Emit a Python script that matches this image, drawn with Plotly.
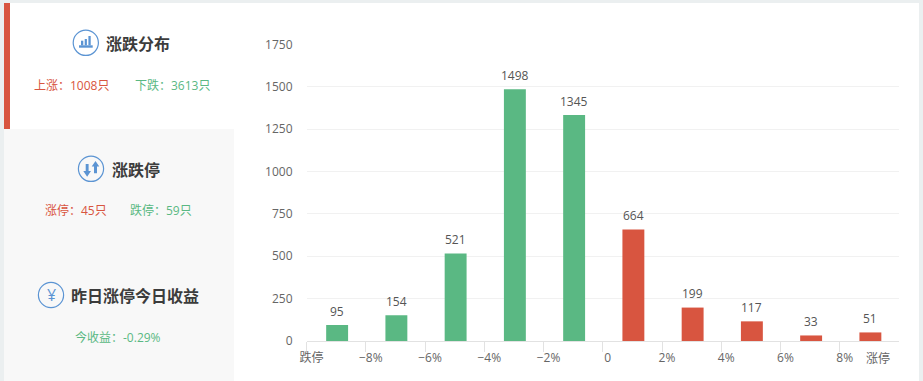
import plotly.graph_objects as go

W, H = 923, 381
values = [95, 154, 521, 1498, 1345, 664, 199, 117, 33, 51]
positions = [0, 1, 2, 3, 4, 5, 6, 7, 8, 9]
tick_vals = [-0.5, 0.5, 1.5, 2.5, 3.5, 4.5, 5.5, 6.5, 7.5, 8.5]
tick_text = ["跌停", "−8%", "−6%", "−4%", "−2%", "0", "2%", "4%", "6%", "8%"]
last_tick_label = "涨停"
y_ticks = [0, 250, 500, 750, 1000, 1250, 1500, 1750]

GREEN = "#5ab883"
RED = "#d85540"
BLUE = "#5b94d3"
colors = [GREEN] * 5 + [RED] * 5
FONT = "Open Sans, Noto Sans CJK SC, sans-serif"
CJK = "Noto Sans CJK SC, sans-serif"


def px(x):
    return x / W


def py(y):
    return 1 - y / H


def rect(x0, y0, x1, y1, color, layer="below"):
    return dict(type="rect", xref="paper", yref="paper", x0=px(x0), x1=px(x1),
                y0=py(y1), y1=py(y0), fillcolor=color, line_width=0, layer=layer)


def circle(cx, cy, r):
    return dict(type="circle", xref="paper", yref="paper", x0=px(cx - r), x1=px(cx + r),
                y0=py(cy + r), y1=py(cy - r), line=dict(color=BLUE, width=1.2), layer="above")


def poly(points):
    d = "M" + " L".join(f"{px(x):.5f},{py(y):.5f}" for x, y in points) + " Z"
    return dict(type="path", xref="paper", yref="paper", path=d, fillcolor=BLUE,
                line_width=0, layer="above")


def label(x, y, text, color, size=12, family=FONT):
    return dict(xref="paper", yref="paper", x=px(x), y=py(y), text=text, showarrow=False,
                xanchor="center", yanchor="middle", font=dict(color=color, size=size, family=family))


shapes = [
    rect(0, 0, W, 3, "#ebeff0"),
    rect(0, 3, 4, H, "#ebeff0"),
    rect(919, 0, W, H, "#ebeff0"),
    rect(4, 3, 10, 129, RED),
    rect(4, 129, 234, H, "#f8f8f8"),
    circle(85.8, 42.8, 12.6),
    rect(79, 45.3, 92.7, 47.7, BLUE, "above"),
    rect(81, 40.7, 83.3, 45.3, BLUE, "above"),
    rect(84.7, 39, 86.9, 45.3, BLUE, "above"),
    rect(88.4, 36, 90.7, 45.3, BLUE, "above"),
    circle(91, 168.8, 12.6),
    poly([(85.7, 164), (88.6, 164), (88.6, 171), (91, 171), (87.15, 176.7), (83.3, 171), (85.7, 171)]),
    poly([(94, 173.3), (97, 173.3), (97, 166.5), (99.3, 166.5), (95.5, 161), (91.7, 166.5), (94, 166.5)]),
    circle(51, 295, 12.6),
]

DARK = "#3c3c3c"
annotations = [
    label(138, 43, "<b>涨跌分布</b>", DARK, 16, CJK),
    label(71.5, 85, "上涨：1008只", RED, 12),
    label(172, 85, "下跌：3613只", GREEN, 12),
    label(135.5, 169, "<b>涨跌停</b>", DARK, 16, CJK),
    label(76, 210.5, "涨停：45只", RED, 12),
    label(161, 210.5, "跌停：59只", GREEN, 12),
    label(135, 295, "<b>昨日涨停今日收益</b>", DARK, 16, CJK),
    label(118, 337, "今收益：-0.29%", GREEN, 12),
    label(51, 295, "¥", BLUE, 16),
]
for xv, yv in zip(positions, values):
    annotations.append(dict(x=xv, y=yv, xref="x", yref="y2", text=str(yv), showarrow=False,
                            yanchor="bottom", yshift=3.5, xshift=1,
                            font=dict(color="#555555", size=12, family=FONT)))
annotations.append(dict(x=positions[-1], y=0, xref="x", yref="y", text=last_tick_label,
                        showarrow=False, yanchor="top", yshift=-7, xshift=9,
                        font=dict(color="#666666", size=12, family=FONT)))

fig = go.Figure(go.Bar(x=positions, y=values, yaxis="y2",
                       marker=dict(color=colors, line_width=0),
                       width=0.37, offset=-0.168, hoverinfo="skip"))
fig.update_layout(
    width=W, height=H, autosize=False,
    margin=dict(l=0, r=0, t=0, b=0, pad=0),
    paper_bgcolor="white", plot_bgcolor="white", showlegend=False,
    shapes=shapes, annotations=annotations,
    font=dict(family=FONT),
    xaxis=dict(domain=[px(306.5), px(899)], range=[-0.5, 9.5], tickmode="array", automargin=False,
               tickvals=tick_vals, ticktext=tick_text, showgrid=False, zeroline=False,
               showline=True, linecolor="#e2e2e2", linewidth=1, ticks="outside", ticklen=10,
               tickcolor="#e2e2e2", tickwidth=1, ticklabelshift=5, ticklabelstandoff=-4,
               tickfont=dict(color="#666666", size=12, family=FONT)),
    yaxis=dict(domain=[py(341), py(44.5)], range=[0, 1750], tickmode="array", automargin=False,
               tickvals=y_ticks, showgrid=True, gridcolor="#f1f1f1", gridwidth=1,
               zeroline=False, showline=False, ticks="",
               ticklabelstandoff=13,
               tickfont=dict(color="#666666", size=12, family=FONT)),
    yaxis2=dict(domain=[py(341), py(44.5)], range=[0, 1765], overlaying="y", visible=False,
                automargin=False),
)
fig.write_html("out.html", config={"displayModeBar": False},
               post_script="document.body.style.margin='0';document.documentElement.style.overflow='hidden';")
